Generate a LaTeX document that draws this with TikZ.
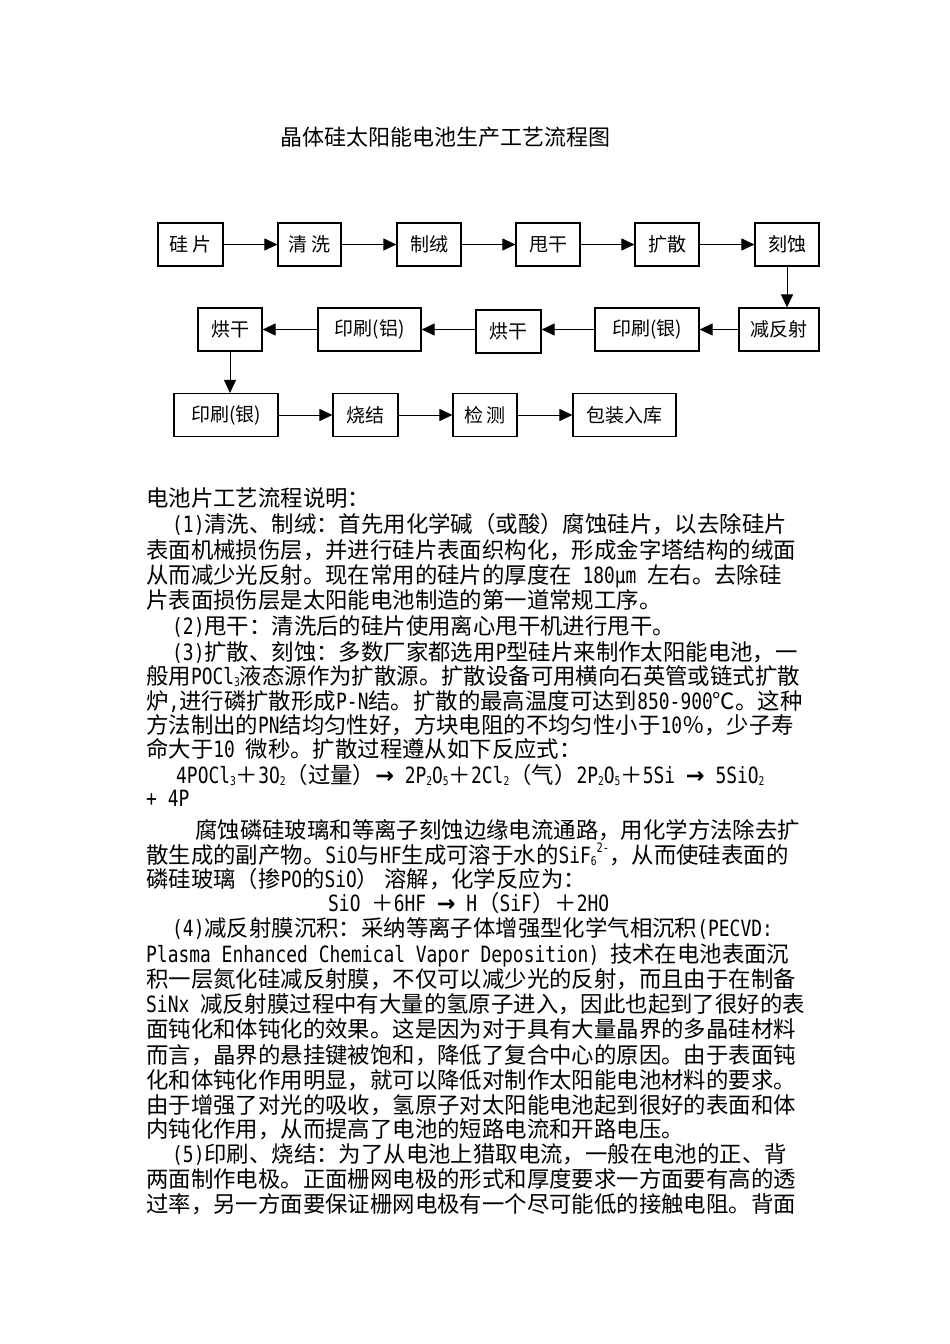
\documentclass[tikz,border=0pt]{standalone}
\usepackage{fontspec}
\setmainfont{Noto Sans CJK SC}
\newfontfamily\latfont[FakeStretch=0.8]{DejaVu Sans Mono}
\newfontfamily\arrfont{DejaVu Sans}
\newcommand\lat[1]{{\latfont #1}}
\newcommand\chemsub[1]{\raisebox{-0.12em}{\fontsize{12}{12}\selectfont #1}}
\newcommand\chemsup[1]{\raisebox{0.45em}{\fontsize{13}{13}\selectfont #1}}
\newcommand\yields{{\arrfont\bfseries →}}
\usetikzlibrary{arrows.meta}

\begin{document}
\begin{tikzpicture}[
        x=1pt, y=-1pt,
        stepbox/.style={rectangle, draw, line width=1.2pt, minimum height=43pt, inner sep=0pt, font=\fontsize{19}{19}\selectfont},
        arrow/.style={-{Triangle[length=13pt,width=12pt]}, line width=1pt},
        textline/.style={anchor=base west, inner sep=0pt, font=\fontsize{22.4}{25}\selectfont}
    ]
        \useasboundingbox[fill=white] (0,0) rectangle (950,1344);

        \node[font=\fontsize{22}{22}\selectfont] (title) at (445,137) {晶体硅太阳能电池生产工艺流程图};

        % first row
        \node[stepbox, minimum width=65pt] (gp) at (190.5,244.5) {硅\,片};
        \node[stepbox, minimum width=63pt] (qx) at (309.5,244.5) {清\,洗};
        \node[stepbox, minimum width=64pt] (zr) at (429,244.5) {制绒};
        \node[stepbox, minimum width=64pt] (sg) at (548,244.5) {甩干};
        \node[stepbox, minimum width=64pt] (ks) at (667,244.5) {扩散};
        \node[stepbox, minimum width=64pt] (ks2) at (787,244.5) {刻蚀};
        % second row
        \node[stepbox, minimum width=80pt] (jfs) at (779,329.5) {减反射};
        \node[stepbox, minimum width=104pt] (yy1) at (647,329.5) {印刷(银)};
        \node[stepbox, minimum width=65pt] (hg1) at (508.5,331.5) {烘干};
        \node[stepbox, minimum width=103pt] (yl) at (369.5,329.5) {印刷(铝)};
        \node[stepbox, minimum width=64pt] (hg2) at (230,329.5) {烘干};
        % third row
        \node[stepbox, minimum width=104pt] (yy2) at (226,415) {印刷(银)};
        \node[stepbox, minimum width=65pt] (sj) at (365.5,415) {烧结};
        \node[stepbox, minimum width=64pt] (jc) at (485,415) {检\,测};
        \node[stepbox, minimum width=103pt] (bz) at (624.5,415) {包装入库};

        \draw[arrow] (gp) -- (qx);
        \draw[arrow] (qx) -- (zr);
        \draw[arrow] (zr) -- (sg);
        \draw[arrow] (sg) -- (ks);
        \draw[arrow] (ks) -- (ks2);
        \draw[arrow] (ks2.south) -- (ks2.south |- jfs.north);
        \draw[arrow] (jfs) -- (yy1);
        \draw[arrow] (yy1.west) -- (yy1.west -| hg1.east);
        \draw[arrow] (hg1.west |- yl.east) -- (yl.east);
        \draw[arrow] (yl) -- (hg2);
        \draw[arrow] (hg2.south) -- (hg2.south |- yy2.north);
        \draw[arrow] (yy2) -- (sj);
        \draw[arrow] (sj) -- (jc);
        \draw[arrow] (jc) -- (bz);

        % explanation text
        \node[textline] (intro) at (146,506) {电池片工艺流程说明：};
        \node[textline] (st1a) at (172,532) {\lat{(1)}清洗、制绒：首先用化学碱（或酸）腐蚀硅片，以去除硅片};
        \node[textline] (st1b) at (146,558) {表面机械损伤层，并进行硅片表面织构化，形成金字塔结构的绒面};
        \node[textline] (st1c) at (146,583) {从而减少光反射。现在常用的硅片的厚度在\lat{\ 180μm }左右。去除硅};
        \node[textline] (st1d) at (146,608) {片表面损伤层是太阳能电池制造的第一道常规工序。};
        \node[textline] (st2a) at (172,634) {\lat{(2)}甩干：清洗后的硅片使用离心甩干机进行甩干。};
        \node[textline] (st3a) at (172,660) {\lat{(3)}扩散、刻蚀：多数厂家都选用\lat{P}型硅片来制作太阳能电池，一};
        \node[textline] (st3b) at (146,684) {般用\lat{POCl\chemsub{3}}液态源作为扩散源。扩散设备可用横向石英管或链式扩散};
        \node[textline] (st3c) at (146,709) {炉\lat{,}进行磷扩散形成\lat{P-N}结。扩散的最高温度可达到\lat{850-900}℃。这种};
        \node[textline] (st3d) at (146,733) {方法制出的\lat{PN}结均匀性好，方块电阻的不均匀性小于\lat{10}％，少子寿};
        \node[textline] (st3e) at (146,757) {命大于\lat{10 }微秒。扩散过程遵从如下反应式：};
        \node[textline] (eq1a) at (176,783) {\lat{4POCl\chemsub{3}}＋\lat{3O\chemsub{2}}（过量）\yields\lat{\ 2P\chemsub{2}O\chemsub{5}}＋\lat{2Cl\chemsub{2}}（气）\lat{2P\chemsub{2}O\chemsub{5}}＋\lat{5Si }\yields\lat{\ 5SiO\chemsub{2}}};
        \node[textline] (eq1b) at (146,806) {\lat{+ 4P}};
        \node[textline] (st3f) at (195,838) {腐蚀磷硅玻璃和等离子刻蚀边缘电流通路，用化学方法除去扩};
        \node[textline] (st3g) at (146,863) {散生成的副产物。\lat{SiO}与\lat{HF}生成可溶于水的\lat{SiF\chemsub{6}\chemsup{2-}}，从而使硅表面的};
        \node[textline] (st3h) at (146,887) {磷硅玻璃（掺\lat{PO}的\lat{SiO}）~溶解，化学反应为：};
        \node[textline] (eq2) at (328,911) {\lat{SiO }＋\lat{6HF }\yields\lat{\ H}（\lat{SiF}）＋\lat{2HO}};
        \node[textline] (st4a) at (172,936) {\lat{(4)}减反射膜沉积：采纳等离子体增强型化学气相沉积\lat{(PECVD:}};
        \node[textline] (st4b) at (146,962) {\lat{Plasma Enhanced Chemical Vapor Deposition) }技术在电池表面沉};
        \node[textline] (st4c) at (146,987) {积一层氮化硅减反射膜，不仅可以减少光的反射，而且由于在制备};
        \node[textline] (st4d) at (146,1012) {\lat{SiNx }减反射膜过程中有大量的氢原子进入，因此也起到了很好的表};
        \node[textline] (st4e) at (146,1037) {面钝化和体钝化的效果。这是因为对于具有大量晶界的多晶硅材料};
        \node[textline] (st4f) at (146,1063) {而言，晶界的悬挂键被饱和，降低了复合中心的原因。由于表面钝};
        \node[textline] (st4g) at (146,1088) {化和体钝化作用明显，就可以降低对制作太阳能电池材料的要求。};
        \node[textline] (st4h) at (146,1113) {由于增强了对光的吸收，氢原子对太阳能电池起到很好的表面和体};
        \node[textline] (st4i) at (146,1137) {内钝化作用，从而提高了电池的短路电流和开路电压。};
        \node[textline] (st5a) at (172,1162) {\lat{(5)}印刷、烧结：为了从电池上猎取电流，一般在电池的正、背};
        \node[textline] (st5b) at (146,1187) {两面制作电极。正面栅网电极的形式和厚度要求一方面要有高的透};
        \node[textline] (st5c) at (146,1212) {过率，另一方面要保证栅网电极有一个尽可能低的接触电阻。背面};
    \end{tikzpicture}
\end{document}
